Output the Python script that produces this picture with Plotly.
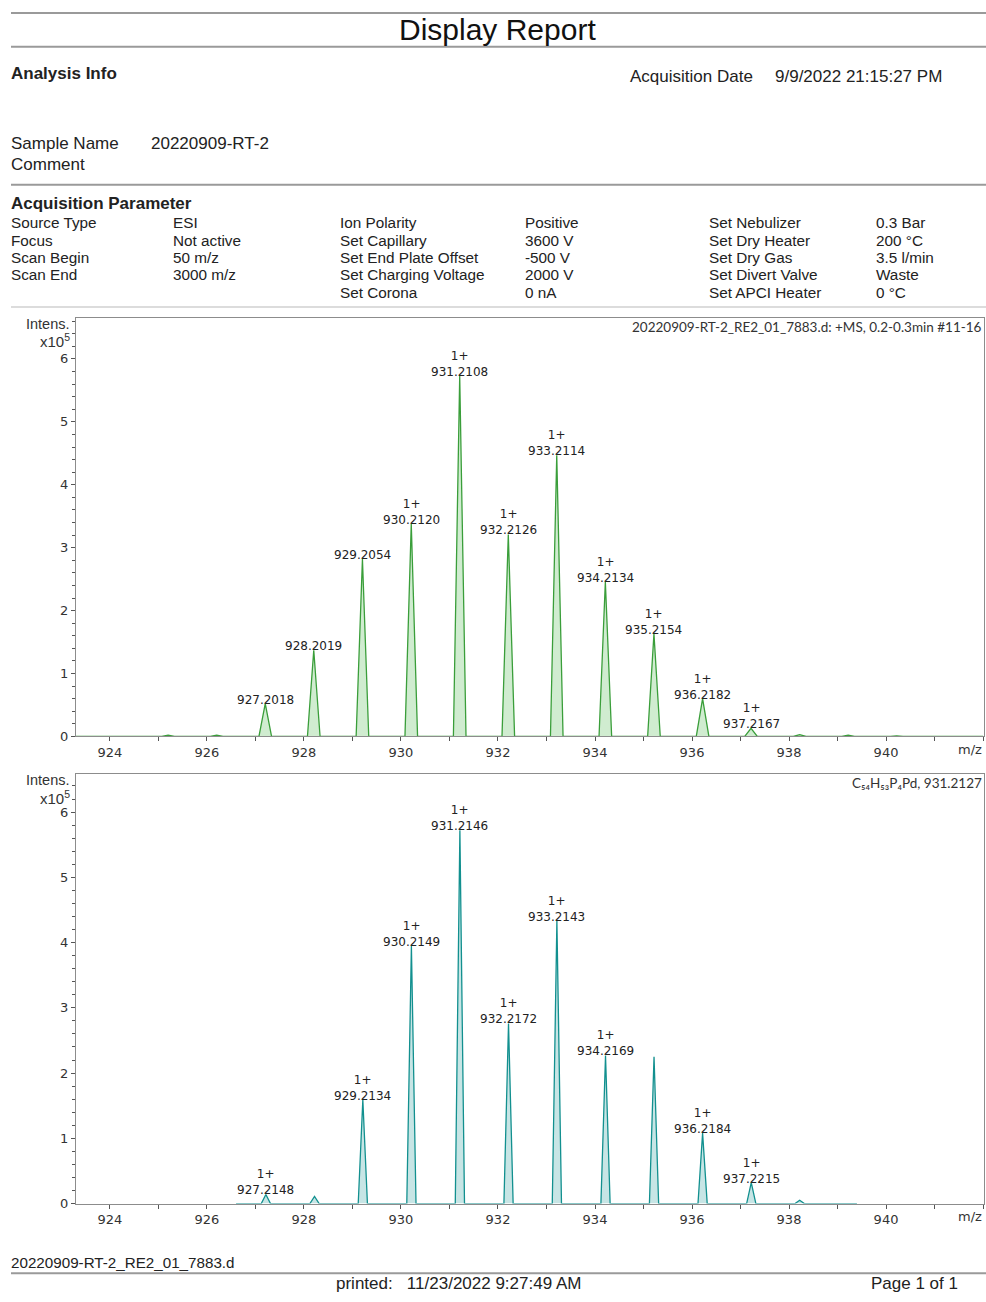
import numpy as np
import plotly.graph_objects as go

# ---------------- data ----------------
W, H = 986, 1302

# measured spectrum (intensity in units of 1e5)
top_mz = [925.20, 926.20, 927.2018, 928.2019, 929.2054, 930.2120, 931.2108, 932.2126,
          933.2114, 934.2134, 935.2154, 936.2182, 937.2167, 938.22, 939.22, 940.22, 941.22]
top_int = [0.02, 0.02, 0.52, 1.37, 2.82, 3.38, 5.73, 3.21,
           4.47, 2.46, 1.63, 0.60, 0.13, 0.03, 0.02, 0.01, 0.01]
top_label = [None, None, "927.2018", "928.2019", "929.2054", "930.2120", "931.2108", "932.2126",
             "933.2114", "934.2134", "935.2154", "936.2182", "937.2167", None, None, None, None]
top_charge = [None, None, None, None, None, "1+", "1+", "1+",
              "1+", "1+", "1+", "1+", "1+", None, None, None, None]

# simulated isotope pattern C54H53P4Pd
bot_mz = [927.2148, 928.2175, 929.2134, 930.2149, 931.2146, 932.2172,
          933.2143, 934.2169, 935.2170, 936.2184, 937.2215, 938.2200]
bot_int = [0.14, 0.11, 1.59, 3.95, 5.72, 2.76,
           4.33, 2.27, 2.25, 1.08, 0.32, 0.05]
bot_label = ["927.2148", None, "929.2134", "930.2149", "931.2146", "932.2172",
             "933.2143", "934.2169", None, "936.2184", "937.2215", None]
bot_charge = ["1+", None, "1+", "1+", "1+", "1+", "1+", "1+", None, "1+", "1+", None]

x_tickvals = [924, 926, 928, 930, 932, 934, 936, 938, 940]
y_tickvals = [0, 1, 2, 3, 4, 5, 6]

top_title = "20220909-RT-2_RE2_01_7883.d: +MS, 0.2-0.3min #11-16"
bot_title = "C\u2085\u2084H\u2085\u2083P\u2084Pd, 931.2127"

params = [
    ("Source Type", "ESI", "Ion Polarity", "Positive", "Set Nebulizer", "0.3 Bar"),
    ("Focus", "Not active", "Set Capillary", "3600 V", "Set Dry Heater", "200 \u00b0C"),
    ("Scan Begin", "50 m/z", "Set End Plate Offset", "-500 V", "Set Dry Gas", "3.5 l/min"),
    ("Scan End", "3000 m/z", "Set Charging Voltage", "2000 V", "Set Divert Valve", "Waste"),
    ("", "", "Set Corona", "0 nA", "Set APCI Heater", "0 \u00b0C"),
]

# ---------------- helpers ----------------
def px(x):
    return x / W

def py(y):
    return 1 - y / H


def profile(mz, inten, half_w, start, end):
    xs, ys = [start], [0.0]
    for c, h in zip(mz, inten):
        xs += [c - half_w, c, c + half_w]
        ys += [0.0, h, 0.0]
    xs.append(end)
    ys.append(0.0)
    return xs, ys


fig = go.Figure()

top_color, top_fill = "#3a9e3a", "rgba(120,200,120,0.35)"
bot_color, bot_fill = "#12908f", "rgba(80,175,175,0.32)"

tx, ty = profile(top_mz, top_int, 0.13, 923.3, 942.0)
fig.add_trace(go.Scatter(x=tx, y=ty, mode="lines", line=dict(color=top_color, width=1.3),
                         fill="tozeroy", fillcolor=top_fill, xaxis="x", yaxis="y",
                         showlegend=False, hoverinfo="skip"))
bx, by = profile(bot_mz, bot_int, 0.095, 926.6, 939.4)
fig.add_trace(go.Scatter(x=bx, y=by, mode="lines", line=dict(color=bot_color, width=1.3),
                         fill="tozeroy", fillcolor=bot_fill, xaxis="x2", yaxis="y2",
                         showlegend=False, hoverinfo="skip"))

tick_font = dict(family="DejaVu Sans", size=13, color="#333333")
axis_common = dict(showgrid=False, zeroline=False, showline=True, linecolor="#8c8c8c",
                   linewidth=1, mirror=True, ticks="outside", ticklen=4, tickcolor="#555555",
                   tickfont=tick_font, fixedrange=True)
xminor = dict(dtick=1, ticks="outside", ticklen=4, tickcolor="#555555")
yminor = dict(dtick=0.2, ticks="outside", ticklen=3, tickcolor="#555555")

fig.update_layout(
    width=W, height=H, margin=dict(l=0, r=0, t=0, b=0),
    paper_bgcolor="white", plot_bgcolor="white", showlegend=False,
    xaxis=dict(domain=[px(76), px(984)], range=[923.3, 942.02], anchor="y",
               tickvals=x_tickvals, minor=xminor, **axis_common),
    yaxis=dict(domain=[py(741), py(320)], range=[0, 6.65], anchor="x",
               tickvals=y_tickvals, minor=yminor, **axis_common),
    xaxis2=dict(domain=[px(76), px(984)], range=[923.3, 942.02], anchor="y2",
                tickvals=x_tickvals, minor=xminor, **axis_common),
    yaxis2=dict(domain=[py(1211), py(779)], range=[0, 6.58], anchor="x2",
                tickvals=y_tickvals, minor=yminor, **axis_common),
)

ann = []
hdr_font = "Liberation Sans"

def text(x, y, s, size=15, bold=False, anchor="left", color="#222222", family=hdr_font):
    xs = x - 2 if anchor == "left" else (x + 2 if anchor == "right" else x)
    ann.append(dict(x=px(xs), y=py(y), xref="paper", yref="paper", text=f"<b>{s}</b>" if bold else s,
                    showarrow=False, xanchor=anchor, yanchor="middle",
                    font=dict(family=family, size=size, color=color)))

text(498, 30, "Display Report", size=30, anchor="center", color="#111111")
text(11, 74, "Analysis Info", size=17, bold=True)
text(630, 77, "Acquisition Date", size=17)
text(775, 77, "9/9/2022 21:15:27 PM", size=17)
text(11, 144, "Sample Name", size=17)
text(151, 144, "20220909-RT-2", size=17)
text(11, 166, "Comment", size=17)
text(11, 205, "Acquisition Parameter", size=17, bold=True)
cols = [11, 173, 340, 525, 709, 876]
for r, row in enumerate(params):
    yy = 224 + r * 17.5
    for c, val in enumerate(row):
        if val:
            text(cols[c], yy, val, size=15.3)

text(11, 1270, "20220909-RT-2_RE2_01_7883.d", size=15.2)
text(336, 1291, "printed:&nbsp;&nbsp;&nbsp;11/23/2022 9:27:49 AM", size=17)
text(871, 1291, "Page 1 of 1", size=17)

# plot decorations
for ytop, title in ((329, top_title), (788, bot_title)):
    text(982, ytop, title, size=13.5, anchor="right", color="#333333", family="Lato")
for y0 in (326, 785):
    text(70, y0, "Intens.", size=14.5, anchor="right", color="#333333", family="Liberation Sans")
    text(70, y0 + 17, "x10<sup>5</sup>", size=15, anchor="right", color="#333333", family="Liberation Sans")
for y0 in (754, 1224):
    text(970, y0, "m/z", size=13, anchor="center", color="#333333", family="DejaVu Sans")

# peak labels
for mz, h, lab, ch, xr, yr in [(a, b, c, d, "x", "y") for a, b, c, d in zip(top_mz, top_int, top_label, top_charge)] + \
                                [(a, b, c, d, "x2", "y2") for a, b, c, d in zip(bot_mz, bot_int, bot_label, bot_charge)]:
    if lab is None:
        continue
    s = f"{ch}<br>{lab}" if ch else lab
    ann.append(dict(x=mz, y=h, xref=xr, yref=yr, text=s, showarrow=False, xanchor="center",
                    yanchor="bottom", yshift=-5,
                    font=dict(family="DejaVu Sans", size=12, color="#222222")))

fig.update_layout(annotations=ann)

# horizontal rules
shapes = []
for y0, col, wdt in ((13, "#9a9a9a", 2), (47, "#9a9a9a", 2), (186, "#9a9a9a", 2),
                     (309, "#d0d0d0", 1.5), (1281, "#9a9a9a", 2)):
    shapes.append(dict(type="line", xref="paper", yref="paper", x0=px(11), x1=1,
                       y0=py(y0), y1=py(y0), line=dict(color=col, width=wdt)))
fig.update_layout(shapes=shapes)

post = (
    "document.documentElement.style.cssText='margin:0;padding:0;overflow:hidden;';"
    "document.body.style.cssText='margin:0;padding:0;overflow:hidden;';"
    "var gd=document.getElementById('{plot_id}');"
    "gd.style.position='absolute';gd.style.top='0px';gd.style.left='0px';"
)
fig.write_html("out.html", config={"displayModeBar": False}, post_script=post)
